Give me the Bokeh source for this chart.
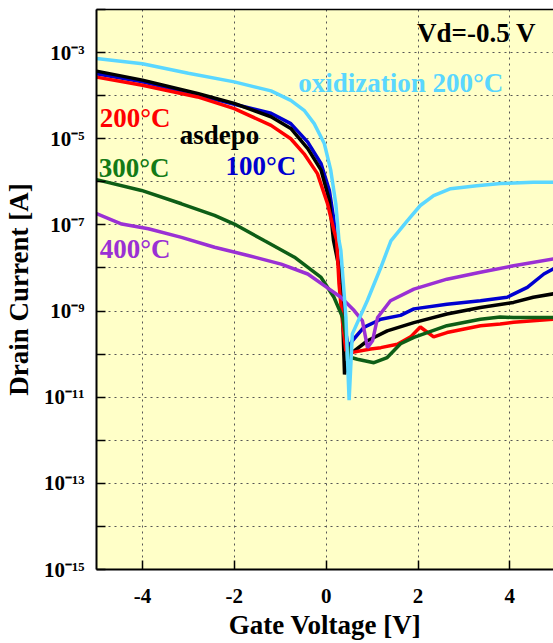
import json
from bokeh.plotting import figure
from bokeh.models import Range1d, FixedTicker, LinearAxis, Label, CustomJSTickFormatter
from bokeh.embed import file_html
from bokeh.resources import INLINE

# ---------------- data (currents as log10(A)) ----------------
asdepo_vg = [-5.0, -4.0, -2.8, -2.0, -1.2, -0.77, -0.4, -0.11, 0.07, 0.16, 0.28, 0.36, 0.40,
             0.50, 0.57, 0.90, 1.33, 1.91, 2.63, 3.36, 4.08, 4.51, 4.95]
asdepo_log = [-3.43, -3.64, -3.95, -4.18, -4.49, -4.76, -5.23, -5.73, -6.43, -7.36, -7.99, -9.15, -10.47,
              -10.02, -9.96, -9.69, -9.46, -9.27, -9.07, -8.92, -8.80, -8.68, -8.60]

t100_vg = [-5.0, -4.0, -2.8, -2.0, -1.2, -0.77, -0.4, -0.11, 0.07, 0.17, 0.21, 0.30, 0.40, 0.48,
           0.57, 0.82, 1.19, 1.62, 1.91, 2.63, 3.36, 3.94, 4.38, 4.74, 4.95]
t100_log = [-3.49, -3.68, -3.98, -4.20, -4.41, -4.65, -5.08, -5.58, -6.20, -6.90, -7.36, -8.2, -9.3, -9.85,
            -9.69, -9.38, -9.19, -9.10, -8.95, -8.84, -8.76, -8.68, -8.45, -8.14, -8.02]

t200_vg = [-5.0, -4.0, -2.8, -2.0, -1.2, -0.77, -0.48, -0.19, 0.03, 0.17, 0.23, 0.28, 0.36, 0.43,
           0.57, 0.97, 1.19, 1.55, 1.84, 2.05, 2.34, 2.63, 3.36, 3.79, 4.08, 4.95]
t200_log = [-3.57, -3.76, -4.03, -4.30, -4.69, -5.00, -5.35, -5.81, -6.51, -7.13, -7.36, -8.37, -9.30, -9.92,
            -9.96, -9.88, -9.85, -9.77, -9.60, -9.37, -9.60, -9.50, -9.34, -9.30, -9.26, -9.19]

t300_vg = [-5.0, -4.02, -3.15, -2.43, -2.00, -1.34, -0.69, -0.11, 0.17, 0.36, 0.46, 0.54, 0.68,
           1.04, 1.33, 1.62, 1.91, 2.63, 3.36, 3.79, 4.08, 4.95]
t300_log = [-5.95, -6.20, -6.51, -6.78, -6.98, -7.37, -7.75, -8.22, -8.68, -9.15, -9.77, -10.08, -10.12,
            -10.20, -10.08, -9.76, -9.61, -9.34, -9.19, -9.14, -9.15, -9.15]

t400_vg = [-5.0, -4.45, -3.87, -3.15, -2.43, -1.70, -0.98, -0.40, -0.04, 0.32, 0.61, 0.79, 0.90,
           1.01, 1.12, 1.40, 1.91, 2.63, 3.36, 4.08, 4.95]
t400_log = [-6.74, -6.98, -7.09, -7.29, -7.52, -7.71, -7.91, -8.14, -8.41, -8.68, -8.99, -9.23, -9.85,
            -9.69, -9.15, -8.76, -8.49, -8.26, -8.10, -7.95, -7.79]

oxi_vg = [-5.0, -4.0, -3.0, -2.0, -1.2, -0.77, -0.48, -0.26, -0.04, 0.10, 0.21, 0.28, 0.32, 0.43, 0.50,
          0.57, 0.90, 1.19, 1.41, 1.77, 2.05, 2.34, 2.71, 3.28, 3.80, 4.51, 4.95]
oxi_log = [-3.14, -3.26, -3.48, -3.68, -3.89, -4.11, -4.34, -4.65, -5.11, -5.73, -6.51, -7.36, -7.59, -9.14, -11.07,
           -9.53, -8.75, -7.99, -7.37, -6.90, -6.55, -6.32, -6.16, -6.09, -6.04, -6.01, -6.01]

x_ticks = [-4, -2, 0, 2, 4]
y_decades = list(range(-15, -1))
y_label_exps = [-3, -5, -7, -9, -11, -13, -15]

FONT = "Liberation Serif"
BG = "#FFFFC8"
SUP = {"0": "\u2070", "1": "\u00b9", "2": "\u00b2", "3": "\u00b3", "4": "\u2074", "5": "\u2075",
       "6": "\u2076", "7": "\u2077", "8": "\u2078", "9": "\u2079", "-": "\u207b"}
y_tick_text = {str(e): "10" + "".join(SUP[c] for c in str(e)) for e in y_label_exps}

p = figure(width=553, height=643, x_range=Range1d(-5.0, 4.95), y_range=Range1d(1e-15, 1e-2),
           y_axis_type="log", output_backend="svg", toolbar_location=None,
           min_border_left=95, min_border_right=0, min_border_top=9, min_border_bottom=74)
p.background_fill_color = BG
p.border_fill_color = "white"
p.outline_line_color = None

# x axis
xa = p.xaxis[0]
xa.ticker = FixedTicker(ticks=x_ticks, minor_ticks=[])
xa.formatter = CustomJSTickFormatter(code="return tick.toFixed(0);")
xa.axis_label = "Gate Voltage [V]"
# y axis
ya = p.yaxis[0]
ya.ticker = FixedTicker(ticks=[10.0 ** e for e in y_decades], minor_ticks=[])
ya.formatter = CustomJSTickFormatter(
    code="const L = " + json.dumps(y_tick_text) +
         "; const e = Math.round(Math.log10(tick)); return L[String(e)] || '';")
ya.axis_label = "Drain Current [A]"

for ax in (xa, ya):
    ax.axis_line_width = 2
    ax.axis_line_color = "black"
    ax.major_tick_in = 9
    ax.major_tick_out = 0
    ax.major_tick_line_width = 1.5
    ax.minor_tick_line_color = None
    ax.major_label_text_font = FONT
    ax.major_label_text_font_style = "bold"
    ax.major_label_text_font_size = "21px"
    ax.major_label_text_color = "black"
    ax.axis_label_text_font = FONT
    ax.axis_label_text_font_style = "bold"
    ax.axis_label_text_font_size = "27px"
    ax.axis_label_text_color = "black"
xa.major_label_standoff = 19
xa.axis_label_standoff = 4
ya.major_label_standoff = 12
ya.axis_label_standoff = 7

top = LinearAxis(ticker=FixedTicker(ticks=[], minor_ticks=[]), major_label_text_font_size="0px",
                 major_tick_in=0, major_tick_out=0, minor_tick_in=0, minor_tick_out=0,
                 major_label_standoff=0, axis_line_width=1.5, axis_line_color="black")
p.add_layout(top, "above")

for g in (p.xgrid[0], p.ygrid[0]):
    g.grid_line_color = "#555555"
    g.grid_line_dash = "2 4"
    g.grid_line_width = 1
p.ygrid[0].ticker = ya.ticker

series = [
    (t100_vg, t100_log, "#0000D0"),
    (asdepo_vg, asdepo_log, "black"),
    (t200_vg, t200_log, "#FF0000"),
    (t300_vg, t300_log, "#0E5E16"),
    (t400_vg, t400_log, "#9A30D4"),
    (oxi_vg, oxi_log, "#5AD7FF"),
]
for vg, lg, col in series:
    p.line(vg, [10.0 ** v for v in lg], line_color=col, line_width=3.5)

annots = [
    ("Vd=-0.5 V", 1.98, -2.55, "black"),
    ("oxidization 200\u00b0C", -0.61, -3.71, "#5AD7FF"),
    ("200\u00b0C", -4.93, -4.52, "#FF0000"),
    ("asdepo", -3.19, -4.92, "black"),
    ("100\u00b0C", -2.19, -5.64, "#0000D0"),
    ("300\u00b0C", -4.95, -5.67, "#137A16"),
    ("400\u00b0C", -4.93, -7.57, "#9A30D4"),
]
for txt, x, ly, col in annots:
    p.add_layout(Label(x=x, y=10.0 ** ly, text=txt, text_font=FONT, text_font_style="bold",
                       text_font_size="27px", text_align="left", text_baseline="alphabetic",
                       text_color=col))

open("out.html", "w").write(file_html(p, INLINE))
